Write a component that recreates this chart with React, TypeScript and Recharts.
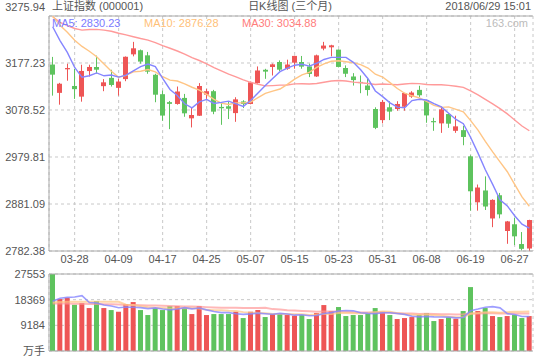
import React from 'react';
import { ComposedChart, Bar, Line, XAxis, YAxis, CartesianGrid, ReferenceLine, Cell } from 'recharts';

const RED = '#ee5555';
const GREEN = '#5ec35e';
const MA5_COLOR = '#8585ff';
const MA10_COLOR = '#ffc585';
const MA30_COLOR = '#ff9a9a';
const AXIS = '#aaaaaa';
const GRID = '#c8c8c8';
const TEXT = '#555555';
const FONT = '"Liberation Sans", "Noto Sans CJK SC", sans-serif';

const dates = [
  '03-23', '03-26', '03-27', '03-28', '03-29', '03-30', '04-02', '04-03', '04-04', '04-09',
  '04-10', '04-11', '04-12', '04-13', '04-16', '04-17', '04-18', '04-19', '04-20', '04-23',
  '04-24', '04-25', '04-26', '04-27', '05-02', '05-03', '05-04', '05-07', '05-08', '05-09',
  '05-10', '05-11', '05-14', '05-15', '05-16', '05-17', '05-18', '05-21', '05-22', '05-23',
  '05-24', '05-25', '05-28', '05-29', '05-30', '05-31', '06-01', '06-04', '06-05', '06-06',
  '06-07', '06-08', '06-11', '06-12', '06-13', '06-14', '06-15', '06-19', '06-20', '06-21',
  '06-22', '06-25', '06-26', '06-27', '06-28', '06-29',
];

const opens = [
  3174.0, 3114.5, 3164.0, 3129.0, 3106.6, 3160.3, 3168.8, 3128.6, 3146.0, 3125.0,
  3143.4, 3195.4, 3204.0, 3193.3, 3152.5, 3111.7, 3095.0, 3091.2, 3103.9, 3061.0,
  3066.5, 3110.8, 3118.0, 3085.0, 3086.3, 3072.0, 3096.5, 3091.2, 3135.0, 3163.0,
  3168.8, 3179.3, 3165.2, 3177.9, 3179.3, 3170.0, 3149.0, 3207.5, 3210.2, 3205.3,
  3166.7, 3148.9, 3137.5, 3129.9, 3080.6, 3057.3, 3084.2, 3080.6, 3085.4, 3106.6,
  3120.8, 3099.6, 3055.2, 3050.4, 3070.0, 3034.8, 3036.2, 2981.2, 2884.6, 2909.5,
  2850.7, 2899.5, 2824.4, 2838.5, 2797.0, 2787.6,
];

const highs = [
  3190.0, 3135.5, 3175.7, 3165.0, 3173.6, 3173.6, 3192.7, 3143.4, 3163.0, 3144.0,
  3191.0, 3221.6, 3205.5, 3200.5, 3154.6, 3119.3, 3097.5, 3127.8, 3112.3, 3084.2,
  3135.0, 3122.8, 3120.8, 3094.8, 3096.9, 3105.3, 3099.0, 3138.3, 3170.0, 3165.0,
  3176.0, 3182.7, 3184.2, 3192.5, 3192.0, 3175.8, 3194.8, 3221.6, 3215.5, 3205.5,
  3172.2, 3155.9, 3151.0, 3144.0, 3084.2, 3099.6, 3096.9, 3096.9, 3114.5, 3118.0,
  3129.4, 3100.0, 3062.2, 3085.5, 3071.5, 3066.5, 3045.3, 2983.3, 2922.0, 2939.1,
  2891.0, 2904.3, 2845.5, 2852.5, 2822.2, 2848.0,
];

const lows = [
  3108.7, 3089.7, 3140.0, 3101.8, 3096.0, 3148.9, 3155.0, 3118.0, 3127.8, 3108.7,
  3139.0, 3191.2, 3175.8, 3154.6, 3094.8, 3055.9, 3038.3, 3089.7, 3064.3, 3041.9,
  3066.0, 3101.8, 3069.7, 3047.4, 3059.5, 3053.7, 3082.6, 3090.5, 3133.5, 3144.0,
  3151.0, 3160.0, 3163.0, 3165.2, 3165.2, 3147.6, 3148.0, 3203.9, 3191.2, 3168.0,
  3147.6, 3129.9, 3113.8, 3108.7, 3038.3, 3050.4, 3057.3, 3077.0, 3077.0, 3104.0,
  3106.0, 3051.7, 3034.8, 3030.5, 3041.0, 3030.5, 3004.5, 2867.1, 2867.1, 2868.5,
  2832.4, 2851.0, 2797.5, 2794.7, 2783.5, 2782.38,
];

const closes = [
  3152.76, 3133.72, 3166.65, 3122.29, 3160.53, 3168.90, 3163.18, 3136.63, 3131.11, 3138.29,
  3190.32, 3208.08, 3180.16, 3159.05, 3110.65, 3066.80, 3091.40, 3117.38, 3071.54, 3068.01,
  3128.93, 3117.97, 3075.03, 3082.23, 3081.18, 3100.86, 3091.03, 3136.65, 3161.50, 3159.15,
  3174.41, 3163.26, 3174.03, 3192.12, 3169.57, 3154.28, 3193.30, 3213.84, 3214.35, 3168.96,
  3154.65, 3141.30, 3135.08, 3120.46, 3041.00, 3095.47, 3075.14, 3091.19, 3114.21, 3115.18,
  3109.50, 3067.15, 3052.78, 3079.80, 3049.80, 3044.16, 3021.90, 2907.82, 2915.73, 2875.81,
  2889.76, 2859.34, 2844.51, 2813.18, 2786.90, 2847.42,
];

const ma5 = [
  3253.42, 3224.31, 3199.51, 3167.78, 3147.19, 3150.42, 3156.31, 3150.31, 3152.07, 3147.62,
  3151.90, 3160.88, 3169.59, 3175.18, 3169.65, 3144.95, 3121.61, 3109.05, 3091.55, 3083.03,
  3095.46, 3100.77, 3092.30, 3094.44, 3097.07, 3091.46, 3086.07, 3098.39, 3114.24, 3129.84,
  3144.55, 3159.00, 3166.48, 3172.60, 3174.68, 3170.65, 3176.66, 3184.62, 3189.07, 3188.95,
  3189.02, 3178.62, 3162.87, 3144.09, 3118.50, 3106.66, 3093.43, 3084.65, 3083.40, 3098.24,
  3101.05, 3099.45, 3091.77, 3084.89, 3071.81, 3058.74, 3049.69, 3020.70, 2987.89, 2953.08,
  2922.20, 2889.69, 2877.03, 2856.52, 2838.74, 2830.23,
];

const ma10 = [
  3275.64, 3256.34, 3241.98, 3225.07, 3212.01, 3201.91, 3190.30, 3174.90, 3159.92, 3147.40,
  3151.16, 3158.60, 3159.95, 3163.63, 3158.64, 3148.43, 3141.25, 3139.32, 3133.36, 3126.33,
  3120.19, 3111.18, 3100.67, 3092.99, 3090.04, 3093.45, 3093.41, 3095.34, 3104.34, 3113.45,
  3118.00, 3122.53, 3132.43, 3143.42, 3152.26, 3157.60, 3167.83, 3175.55, 3180.84, 3181.82,
  3179.84, 3177.64, 3173.74, 3166.57, 3153.71, 3147.83, 3136.01, 3123.74, 3113.73, 3108.35,
  3103.83, 3096.41, 3088.18, 3084.11, 3084.99, 3079.86, 3074.54, 3056.20, 3036.35, 3012.41,
  2990.44, 2969.66, 2948.83, 2922.17, 2895.88, 2876.28,
];

const ma30 = [
  3274.5, 3262.7, 3255.9, 3249.7, 3246.3, 3247.6, 3247.9, 3246.3, 3244.0, 3239.7,
  3236.4, 3232.4, 3228.7, 3225.4, 3219.9, 3213.7, 3208.2, 3202.4, 3195.8, 3188.4,
  3182.5, 3175.5, 3167.7, 3160.7, 3153.7, 3148.1, 3141.8, 3136.7, 3132.7, 3129.1,
  3129.8, 3130.8, 3131.0, 3133.4, 3133.7, 3133.2, 3134.2, 3136.7, 3139.5, 3140.5,
  3139.3, 3137.1, 3135.6, 3134.3, 3132.0, 3133.0, 3132.4, 3131.5, 3133.0, 3134.5,
  3133.9, 3132.2, 3131.5, 3131.4, 3130.3, 3128.4, 3126.1, 3118.5, 3110.3, 3100.9,
  3091.4, 3081.3, 3070.3, 3057.6, 3044.9, 3034.88,
];

const volumes = [
  27553, 18590, 19050, 16550, 17160, 15370, 17870, 15370, 14650, 14050,
  16800, 17510, 14650, 12870, 15370, 14650, 16080, 16080, 15370, 13220,
  16080, 12870, 13220, 13220, 13220, 14050, 11790, 14050, 14650, 12150,
  13220, 13220, 12870, 12620, 12870, 11440, 13580, 16440, 14300, 15730,
  12510, 12870, 12870, 13340, 15370, 14050, 12870, 11440, 11790, 12150,
  12870, 13580, 10720, 11440, 12030, 11550, 14300, 22870, 14300, 15370,
  12510, 12150, 12510, 12870, 11790, 12510,
];

const volMa5 = [
  17800, 18900, 19200, 19300, 19780, 17340, 17200, 16460, 16080, 15460,
  15750, 15680, 15530, 15180, 15440, 15010, 14720, 15010, 15510, 15080,
  15370, 14720, 14150, 13720, 13720, 13320, 13100, 13270, 13550, 13340,
  13170, 13460, 13220, 12820, 12960, 12600, 12680, 13390, 13730, 14300,
  14510, 14370, 13660, 13460, 13390, 13700, 13700, 13410, 13100, 12460,
  12220, 12370, 12220, 12150, 12130, 11860, 12010, 14440, 15010, 15680,
  15870, 15440, 13370, 13080, 12370, 12370,
];

const volMa10 = [
  17400, 17500, 17600, 17600, 17600, 17600, 17600, 17600, 17600, 17620,
  16550, 16440, 16000, 15630, 15450, 15380, 15200, 15270, 15350, 15260,
  15190, 14720, 14580, 14620, 14400, 14350, 13910, 13710, 13640, 13530,
  13250, 13280, 13250, 13190, 13150, 12890, 13070, 13310, 13280, 13630,
  13560, 13530, 13530, 13600, 13850, 14110, 14040, 13540, 13280, 12930,
  12960, 13040, 12820, 12630, 12300, 12040, 12190, 13330, 13580, 13910,
  13870, 13730, 13910, 14050, 14030, 14120,
];

const volMa30 = [
  17000, 17000, 17000, 16900, 16900, 16800, 16800, 16700, 16700, 16600,
  16500, 16500, 16400, 16300, 16300, 16200, 16100, 16000, 15900, 15900,
  15800, 15700, 15600, 15500, 15500, 15500, 15400, 15400, 15400, 15470,
  14990, 14810, 14600, 14470, 14330, 14200, 14060, 14100, 14090, 14150,
  14010, 13860, 13800, 13820, 13820, 13800, 13690, 13540, 13420, 13380,
  13270, 13290, 13210, 13150, 13110, 13030, 13110, 13400, 13390, 13500,
  13480, 13440, 13430, 13440, 13400, 13440,
];

const dateTicks = ['03-28', '04-09', '04-17', '04-25', '05-07', '05-15', '05-23', '05-31', '06-08', '06-19', '06-27'];
const priceTicks = [2782.38, 2881.09, 2979.81, 3078.52, 3177.23, 3275.94];
const volumeTicks = [0, 9184, 18369, 27553];

const rows = dates.map((date, i) => ({
  date,
  open: opens[i],
  high: highs[i],
  low: lows[i],
  close: closes[i],
  ma5: ma5[i],
  ma10: ma10[i],
  ma30: ma30[i],
  vol: volumes[i],
  volMa5: volMa5[i],
  volMa10: volMa10[i],
  volMa30: volMa30[i],
}));

function Candle(props: any) {
  const { x, y, width, height, payload } = props;
  if (!payload) return null;
  const { open, close, high, low } = payload;
  const color = close >= open ? RED : GREEN;
  const top = Math.min(y, y + height);
  const span = Math.abs(height);
  const k = high > low ? span / (high - low) : 0;
  const at = (v: number) => top + (high - v) * k;
  const bodyTop = at(Math.max(open, close));
  const bodyH = Math.max(1, at(Math.min(open, close)) - bodyTop);
  const left = Math.round(x);
  const cx = left + Math.floor(width / 2) + 0.5;
  return (
    <g>
      <line x1={cx} x2={cx} y1={top} y2={top + span} stroke={color} strokeWidth={1} />
      <rect x={left} y={bodyTop} width={width} height={bodyH} fill={color} />
    </g>
  );
}

function PriceTick(props: any) {
  const { x, y, payload } = props;
  const shift = payload.value === priceTicks[priceTicks.length - 1] ? -9 : 0;
  return (
    <text x={x} y={y + shift} dy="0.35em" textAnchor="end" fontSize={11} fill={TEXT}>
      {payload.value.toFixed(2)}
    </text>
  );
}

const label = (left: number, top: number, color: string, text: string, extra: any = {}) => (
  <div style={{ position: 'absolute', left, top, lineHeight: '12px', fontSize: 11, color, whiteSpace: 'nowrap', ...extra }}>
    {text}
  </div>
);

export default function App() {
  const last = dates.length - 1;
  return (
    <div style={{ position: 'absolute', left: 0, top: 0, width: 540, height: 360, background: '#fff', fontFamily: FONT, overflow: 'hidden' }}>
      <div style={{ position: 'absolute', left: 0, top: 0 }}>
        <ComposedChart width={540} height={270} data={rows} margin={{ top: 16, right: 7, bottom: 0, left: 0 }}>
          <CartesianGrid stroke={GRID} strokeDasharray="3 3" />
          <XAxis
            dataKey="date"
            ticks={dateTicks}
            interval={0}
            tickLine={false}
            tickSize={0}
            tickMargin={4}
            height={19}
            axisLine={{ stroke: AXIS }}
            tick={{ fill: TEXT, fontSize: 11 }}
          />
          <YAxis
            type="number"
            domain={[priceTicks[0], priceTicks[priceTicks.length - 1]]}
            ticks={priceTicks}
            allowDataOverflow
            width={49}
            tickLine={false}
            tickSize={0}
            tickMargin={4}
            axisLine={{ stroke: AXIS }}
            tick={<PriceTick />}
          />
          <ReferenceLine y={priceTicks[priceTicks.length - 1]} stroke={AXIS} />
          <Bar dataKey={(d: any) => [d.low, d.high]} barSize={5} shape={(p: any) => <Candle {...p} />} isAnimationActive={false} />
          <Line type="linear" dataKey="ma30" stroke={MA30_COLOR} strokeWidth={1.4} dot={false} isAnimationActive={false} />
          <Line type="linear" dataKey="ma10" stroke={MA10_COLOR} strokeWidth={1.4} dot={false} isAnimationActive={false} />
          <Line type="linear" dataKey="ma5" stroke={MA5_COLOR} strokeWidth={1.4} dot={false} isAnimationActive={false} />
        </ComposedChart>
      </div>

      <div style={{ position: 'absolute', left: 0, top: 262 }}>
        <ComposedChart width={540} height={98} data={rows} margin={{ top: 12, right: 7, bottom: 8, left: 0 }}>
          <CartesianGrid stroke={GRID} strokeDasharray="3 3" />
          <XAxis dataKey="date" ticks={dateTicks} interval={0} tick={false} tickLine={false} height={1} axisLine={{ stroke: AXIS }} />
          <YAxis
            type="number"
            domain={[0, volumeTicks[volumeTicks.length - 1]]}
            ticks={volumeTicks}
            allowDataOverflow
            width={49}
            tickLine={false}
            tickSize={0}
            tickMargin={4}
            axisLine={{ stroke: AXIS }}
            tick={{ fill: TEXT, fontSize: 11 }}
            tickFormatter={(v: number) => (v === 0 ? '万手' : String(v))}
          />
          <ReferenceLine y={volumeTicks[volumeTicks.length - 1]} stroke={AXIS} />
          <Bar dataKey="vol" barSize={5} isAnimationActive={false}>
            {rows.map((r, i) => (
              <Cell key={i} fill={r.close >= r.open ? RED : GREEN} />
            ))}
          </Bar>
          <Line type="linear" dataKey="volMa30" stroke={MA30_COLOR} strokeOpacity={0.7} strokeWidth={2} dot={false} isAnimationActive={false} />
          <Line type="linear" dataKey="volMa10" stroke={MA10_COLOR} strokeOpacity={0.7} strokeWidth={2} dot={false} isAnimationActive={false} />
          <Line type="linear" dataKey="volMa5" stroke={MA5_COLOR} strokeOpacity={0.8} strokeWidth={1.6} dot={false} isAnimationActive={false} />
        </ComposedChart>
      </div>

      {label(52, 0, TEXT, '上证指数 (000001)')}
      <div style={{ position: 'absolute', left: 0, width: 580, top: 0, lineHeight: '12px', fontSize: 11, color: TEXT, textAlign: 'center' }}>
        日K线图 (三个月)
      </div>
      {label(0, 0, TEXT, '2018/06/29 15:01', { left: 'auto', right: 9 })}
      {label(52, 16.5, '#7b7bff', `MA5: ${ma5[last].toFixed(2)}`)}
      {label(144, 16.5, '#ffbf78', `MA10: ${ma10[last].toFixed(2)}`)}
      {label(242, 16.5, '#ff7c7c', `MA30: ${ma30[last].toFixed(2)}`)}
      {label(0, 16.5, '#bbbbbb', '163.com', { left: 'auto', right: 12 })}
    </div>
  );
}
